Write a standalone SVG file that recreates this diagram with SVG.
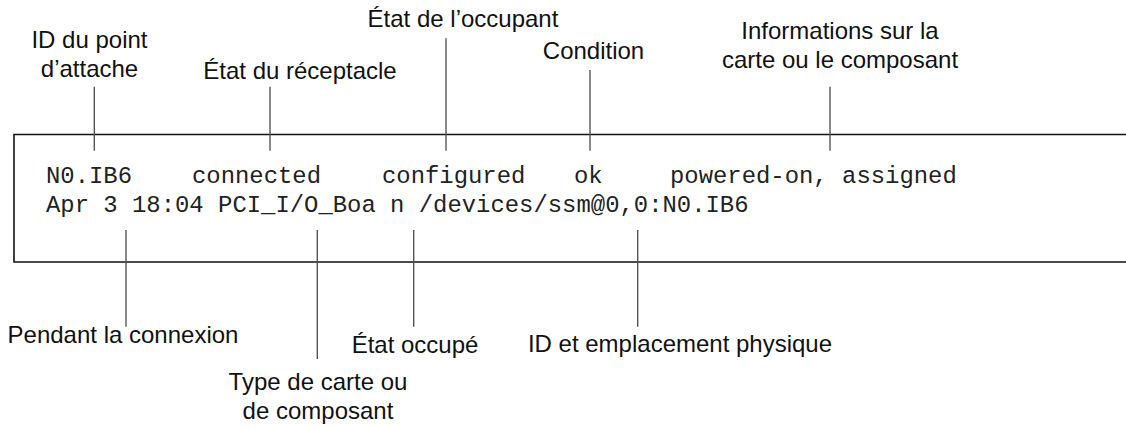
<svg xmlns="http://www.w3.org/2000/svg" width="1126" height="428" viewBox="0 0 1126 428">
<style>
.lbl{font-family:"Liberation Sans",Arial,sans-serif;font-size:24px;fill:#111;text-anchor:middle}
.mono{font-family:"Liberation Mono","Courier New",monospace;font-size:23.9px;fill:#222}
.tick{stroke:#555;stroke-width:1.4;fill:none}
.box{stroke:#111;stroke-width:1.6;fill:none}
</style>
<rect width="1126" height="428" fill="#fff"/>
<g id="output-box">
<path class="box" d="M1126 134.5 H14 V262 H1126"/>
<text class="mono" x="46" y="182.5">N0.IB6</text>
<text class="mono" x="192" y="182.5">connected</text>
<text class="mono" x="382" y="182.5">configured</text>
<text class="mono" x="574" y="182.5">ok</text>
<text class="mono" x="670" y="182.5">powered-on, assigned</text>
<text class="mono" x="46" y="212">Apr 3 18:04 PCI_I/O_Boa n /devices/ssm@0,0:N0.IB6</text>
</g>
<g id="connectors">
<line class="tick" x1="94.3" y1="86.7" x2="94.3" y2="150.7"/>
<line class="tick" x1="270" y1="86.7" x2="270" y2="150.7"/>
<line class="tick" x1="446" y1="38.3" x2="446" y2="150.7"/>
<line class="tick" x1="590" y1="70" x2="590" y2="150.7"/>
<line class="tick" x1="830" y1="86.7" x2="830" y2="150.7"/>
<line class="tick" x1="126" y1="230" x2="126" y2="326.7"/>
<line class="tick" x1="317.3" y1="230" x2="317.3" y2="359"/>
<line class="tick" x1="413.7" y1="230" x2="413.7" y2="326.7"/>
<line class="tick" x1="637.7" y1="230" x2="637.7" y2="326.7"/>
</g>
<g id="label-attach-id"><text class="lbl" x="89.5" y="48">ID du point</text><text class="lbl" x="89.5" y="77">d’attache</text></g>
<g id="label-receptacle"><text class="lbl" x="300" y="78.5">État du réceptacle</text></g>
<g id="label-occupant"><text class="lbl" x="463" y="27">État de l’occupant</text></g>
<g id="label-condition"><text class="lbl" x="593.5" y="58.5">Condition</text></g>
<g id="label-info"><text class="lbl" x="840" y="39">Informations sur la</text><text class="lbl" x="840" y="68">carte ou le composant</text></g>
<g id="label-pendant"><text class="lbl" x="123" y="343">Pendant la connexion</text></g>
<g id="label-type"><text class="lbl" x="318" y="390">Type de carte ou</text><text class="lbl" x="318" y="419">de composant</text></g>
<g id="label-busy"><text class="lbl" x="415" y="353">État occupé</text></g>
<g id="label-physical"><text class="lbl" x="680" y="352">ID et emplacement physique</text></g>
</svg>
